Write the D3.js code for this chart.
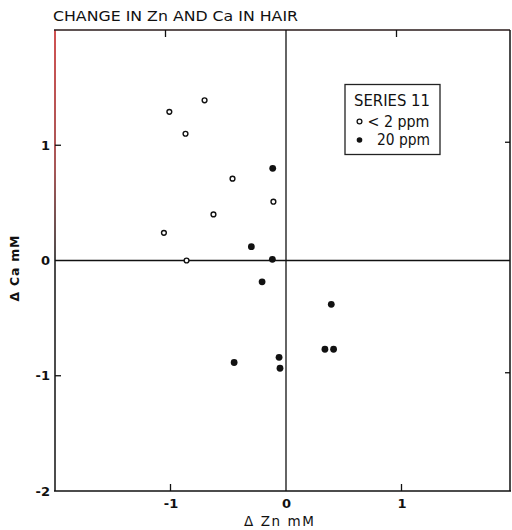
<!DOCTYPE html>
<html>
<head>
<meta charset="utf-8">
<script src="https://cdn.jsdelivr.net/npm/d3@7"></script>
<style>
  html, body { margin: 0; padding: 0; background: #fff; }
  svg { display: block; }
  text { font-family: "DejaVu Sans", "Liberation Sans", sans-serif; fill: #111; }
</style>
</head>
<body>
<svg id="chart" width="512" height="530"></svg>
<script>
// Change in zinc (x) and calcium (y) in hair, mM
const lowZnX  = [-1.01, -0.705, -0.87, -0.463, -0.109, -0.628, -1.057, -0.861];
const lowZnY  = [ 1.29,  1.39,   1.10,  0.71,   0.51,   0.40,   0.24,   0.0 ];
const highZnX = [-0.115, -0.30, -0.118, -0.207, 0.392, 0.337, 0.412, -0.449, -0.06, -0.052];
const highZnY = [ 0.80,   0.12,  0.01,  -0.185, -0.38, -0.77, -0.77, -0.885, -0.84, -0.935];

const xTicks = [-1, 0, 1];
const yTicks = [-2, -1, 0, 1];
const legendTitle = "SERIES 11";
const legendLabels = ["< 2 ppm", "20 ppm"];

const svg = d3.select("#chart");
const plotLeft = 55, plotRight = 510, plotTop = 30, plotBottom = 491;
const x = d3.scaleLinear().domain([-2, 2]).range([plotLeft, plotLeft + 462]);
const y = d3.scaleLinear().domain([-2, 2]).range([plotBottom, plotTop]);

// frame: reddish tint fades down the left edge
const defs = svg.append("defs");
const grad = defs.append("linearGradient").attr("id", "leftEdge")
  .attr("x1", 0).attr("y1", 0).attr("x2", 0).attr("y2", 1);
grad.append("stop").attr("offset", "0%").attr("stop-color", "#c01818");
grad.append("stop").attr("offset", "30%").attr("stop-color", "#8a2020");
grad.append("stop").attr("offset", "50%").attr("stop-color", "#111");
grad.append("stop").attr("offset", "100%").attr("stop-color", "#111");

svg.append("rect").attr("x", plotLeft - 0.75).attr("y", plotTop).attr("width", 1.5)
  .attr("height", plotBottom - plotTop).attr("fill", "url(#leftEdge)");
svg.append("line").attr("x1", plotLeft - 1).attr("x2", plotRight).attr("y1", plotTop).attr("y2", plotTop)
  .attr("stroke", "#2a1a1a").attr("stroke-width", 1.5);
svg.append("line").attr("x1", plotLeft - 1).attr("x2", plotRight + 1).attr("y1", plotBottom).attr("y2", plotBottom)
  .attr("stroke", "#111").attr("stroke-width", 1.5);
svg.append("line").attr("x1", plotRight).attr("x2", plotRight).attr("y1", plotTop).attr("y2", plotBottom)
  .attr("stroke", "#111").attr("stroke-width", 1.5);

// zero lines
svg.append("line").attr("x1", x(0)).attr("x2", x(0)).attr("y1", plotTop).attr("y2", plotBottom)
  .attr("stroke", "#111").attr("stroke-width", 1.3);
svg.append("line").attr("x1", plotLeft).attr("x2", plotRight).attr("y1", y(0)).attr("y2", y(0))
  .attr("stroke", "#111").attr("stroke-width", 1.3);

// bottom axis, ticks pointing inward
const xAxis = svg.append("g").attr("transform", `translate(0,${plotBottom})`)
  .call(d3.axisBottom(x).tickValues(xTicks).tickSize(0).tickPadding(8).tickFormat(d3.format("d")));
xAxis.select(".domain").remove();
xAxis.selectAll("text").attr("font-size", 13).attr("font-weight", "bold").attr("fill", "#111")
  .text(d => d < 0 ? "-" + Math.abs(d) : d);
svg.selectAll(".xtick").data(xTicks.filter(d => d !== 0)).join("line")
  .attr("x1", d => x(d)).attr("x2", d => x(d)).attr("y1", plotBottom).attr("y2", plotBottom - 7)
  .attr("stroke", "#111").attr("stroke-width", 1.3);
svg.selectAll(".xtickTop").data(xTicks.filter(d => d !== 0)).join("line")
  .attr("x1", d => x(d) - 5).attr("x2", d => x(d) - 5).attr("y1", plotTop).attr("y2", plotTop + 7)
  .attr("stroke", "#111").attr("stroke-width", 1.3);

// left axis
const yAxis = svg.append("g").attr("transform", `translate(${plotLeft},0)`)
  .call(d3.axisLeft(y).tickValues(yTicks).tickSize(0).tickPadding(5).tickFormat(d3.format("d")));
yAxis.select(".domain").remove();
yAxis.selectAll("text").attr("font-size", 13).attr("font-weight", "bold").attr("fill", "#111")
  .text(d => d < 0 ? "-" + Math.abs(d) : d);
svg.selectAll(".ytick").data(yTicks.filter(d => d !== 0 && d !== -2)).join("line")
  .attr("x1", plotLeft).attr("x2", plotLeft + 6).attr("y1", d => y(d)).attr("y2", d => y(d))
  .attr("stroke", "#111").attr("stroke-width", 1.3);
svg.selectAll(".ytickRight").data(yTicks.filter(d => d !== 0 && d !== -2)).join("line")
  .attr("x1", plotRight).attr("x2", plotRight - 5).attr("y1", d => y(d) - 3).attr("y2", d => y(d) - 3)
  .attr("stroke", "#111").attr("stroke-width", 1.3);

// titles
svg.append("text").attr("x", 53).attr("y", 21).attr("font-size", 14.5)
  .attr("textLength", 245).attr("lengthAdjust", "spacingAndGlyphs")
  .text("CHANGE  IN  Zn AND  Ca  IN  HAIR");
svg.append("text").attr("x", 279).attr("y", 526).attr("text-anchor", "middle")
  .attr("font-size", 13.5).attr("textLength", 70).attr("lengthAdjust", "spacing")
  .text("Δ Zn  mM");
svg.append("text").attr("transform", `translate(19,${y(0) + 8}) rotate(-90)`)
  .attr("text-anchor", "middle").attr("font-size", 12.5).attr("font-weight", "bold")
  .attr("textLength", 66).attr("lengthAdjust", "spacing").text("Δ Ca  mM");

// points
svg.selectAll(".low").data(lowZnX.map((d, i) => [d, lowZnY[i]])).join("circle")
  .attr("cx", d => x(d[0])).attr("cy", d => y(d[1])).attr("r", 2.4)
  .attr("fill", "#fff").attr("stroke", "#111").attr("stroke-width", 1.4);
svg.selectAll(".high").data(highZnX.map((d, i) => [d, highZnY[i]])).join("circle")
  .attr("cx", d => x(d[0])).attr("cy", d => y(d[1])).attr("r", 3.4)
  .attr("fill", "#111");

// legend
const lg = svg.append("g");
lg.append("rect").attr("x", 345).attr("y", 84.5).attr("width", 95).attr("height", 70)
  .attr("fill", "#fff").attr("stroke", "#222").attr("stroke-width", 1.3);
lg.append("text").attr("x", 354).attr("y", 105.5).attr("font-size", 15)
  .attr("textLength", 76).attr("lengthAdjust", "spacingAndGlyphs").text(legendTitle);
lg.append("circle").attr("cx", 359.5).attr("cy", 121.5).attr("r", 2.4)
  .attr("fill", "#fff").attr("stroke", "#111").attr("stroke-width", 1.3);
lg.append("text").attr("x", 367.5).attr("y", 126.5).attr("font-size", 15)
  .attr("textLength", 62).attr("lengthAdjust", "spacingAndGlyphs").text(legendLabels[0]);
lg.append("circle").attr("cx", 359.5).attr("cy", 140).attr("r", 2.8).attr("fill", "#111");
lg.append("text").attr("x", 377).attr("y", 144.5).attr("font-size", 15)
  .attr("textLength", 53).attr("lengthAdjust", "spacingAndGlyphs").text(legendLabels[1]);
</script>
</body>
</html>
